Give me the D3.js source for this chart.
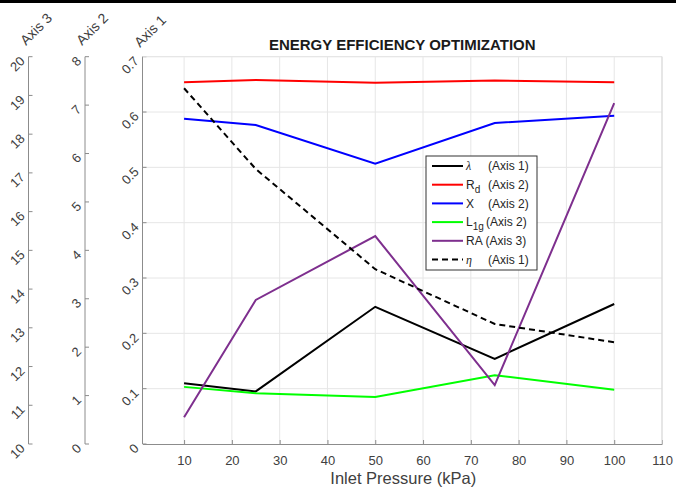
<!DOCTYPE html>
<html>
<head>
<meta charset="utf-8">
<script src="https://cdn.jsdelivr.net/npm/d3@7"></script>
<style>
  body { margin: 0; background: #fff; }
  svg { display: block; font-family: "Liberation Sans", Arial, sans-serif; }
</style>
</head>
<body>
<div id="chart-area"></div>
<script>
// Data
const pressure = [10, 25, 50, 75, 100];
const lambda = [0.110, 0.095, 0.248, 0.154, 0.253];
const eta = [0.643, 0.497, 0.316, 0.217, 0.184];
const rd = [7.47, 7.52, 7.46, 7.51, 7.47];
const xReact = [6.72, 6.59, 5.79, 6.63, 6.78];
const l1g = [1.18, 1.05, 0.97, 1.42, 1.12];
const ra = [10.69, 13.72, 15.37, 11.52, 18.80];

const xTicks = [10, 20, 30, 40, 50, 60, 70, 80, 90, 100, 110];
const axis1Ticks = [0, 0.1, 0.2, 0.3, 0.4, 0.5, 0.6, 0.7];
const axis2Ticks = [0, 1, 2, 3, 4, 5, 6, 7, 8];
const axis3Ticks = [10, 11, 12, 13, 14, 15, 16, 17, 18, 19, 20];

// Constants
const WIDTH = 676, HEIGHT = 488;
const PLOT = { LEFT: 142.5, RIGHT: 662, TOP: 56.7, BOTTOM: 444 };
const AX2_X = 85, AX3_X = 28.5;
const GRID = '#e6e6e6';
const AXIS = '#8c8c8c';
const TEXT = '#404040';

const svg = d3.select('#chart-area')
    .append('svg')
    .attr('width', WIDTH)
    .attr('height', HEIGHT);

svg.append('rect').attr('x', 0).attr('y', 0).attr('width', WIDTH).attr('height', 3).attr('fill', '#000');

// Scales
const x = d3.scaleLinear().domain([1.3, 110]).range([PLOT.LEFT, PLOT.RIGHT]);
const y1 = d3.scaleLinear().domain([0, 0.7]).range([PLOT.BOTTOM, PLOT.TOP]);
const y2 = d3.scaleLinear().domain([0, 8]).range([PLOT.BOTTOM, PLOT.TOP]);
const y3 = d3.scaleLinear().domain([10, 20]).range([PLOT.BOTTOM, PLOT.TOP]);

// Grid
const grid = svg.append('g');
grid.selectAll('.vg').data(xTicks).enter().append('line')
    .attr('x1', d => x(d)).attr('x2', d => x(d))
    .attr('y1', PLOT.TOP).attr('y2', PLOT.BOTTOM)
    .attr('stroke', GRID).attr('stroke-width', 1);
grid.selectAll('.hg').data(axis1Ticks.slice(1)).enter().append('line')
    .attr('x1', PLOT.LEFT).attr('x2', PLOT.RIGHT)
    .attr('y1', d => y1(d)).attr('y2', d => y1(d))
    .attr('stroke', GRID).attr('stroke-width', 1);

// X axis
const xAxis = svg.append('g')
    .attr('transform', `translate(0, ${PLOT.BOTTOM})`)
    .call(d3.axisBottom(x).tickValues(xTicks).tickSize(-4).tickPadding(12).tickSizeOuter(0));
xAxis.select('.domain').attr('stroke', AXIS);
xAxis.selectAll('.tick line').attr('stroke', AXIS);
xAxis.selectAll('.tick text').attr('fill', TEXT).attr('font-size', 13).attr('font-family', '"Liberation Sans", Arial, sans-serif');

// Left y axes with rotated labels
function leftAxis(scale, ticks, xPos, fmt) {
    const g = svg.append('g').attr('transform', `translate(${xPos}, 0)`);
    g.append('line')
        .attr('x1', 0).attr('x2', 0)
        .attr('y1', PLOT.TOP).attr('y2', PLOT.BOTTOM)
        .attr('stroke', AXIS).attr('stroke-width', 1);
    g.selectAll('.tk').data(ticks).enter().append('line')
        .attr('x1', 0).attr('x2', 4)
        .attr('y1', d => scale(d)).attr('y2', d => scale(d))
        .attr('stroke', AXIS);
    g.selectAll('.lb').data(ticks).enter().append('text')
        .attr('transform', d => `translate(-6, ${scale(d) + 2}) rotate(-45)`)
        .attr('text-anchor', 'end')
        .attr('dy', '0.35em')
        .attr('fill', TEXT)
        .attr('font-size', 13)
        .text(fmt);
    return g;
}
leftAxis(y1, axis1Ticks, PLOT.LEFT, d => d === 0 ? '0' : d3.format('.1f')(d));
leftAxis(y2, axis2Ticks, AX2_X, d => d);
leftAxis(y3, axis3Ticks, AX3_X, d => d);

// Top and right box edges
svg.append('line').attr('x1', PLOT.LEFT).attr('x2', PLOT.RIGHT).attr('y1', PLOT.TOP).attr('y2', PLOT.TOP).attr('stroke', GRID);
svg.append('line').attr('x1', PLOT.RIGHT).attr('x2', PLOT.RIGHT).attr('y1', PLOT.TOP).attr('y2', PLOT.BOTTOM).attr('stroke', '#d9d9d9');

// Axis titles
[['Axis 3', 36, 29], ['Axis 2', 92, 29], ['Axis 1', 150, 31]].forEach(([t, cx, cy]) => {
    svg.append('text')
        .attr('transform', `translate(${cx}, ${cy}) rotate(-45)`)
        .attr('text-anchor', 'middle')
        .attr('dy', '0.35em')
        .attr('fill', TEXT)
        .attr('font-size', 14)
        .text(t);
});

// Title and x label
svg.append('text')
    .attr('x', (PLOT.LEFT + PLOT.RIGHT) / 2).attr('y', 50)
    .attr('text-anchor', 'middle')
    .attr('font-weight', 'bold').attr('font-size', 15)
    .attr('fill', '#1a1a1a')
    .text('ENERGY EFFICIENCY OPTIMIZATION');
svg.append('text')
    .attr('x', (PLOT.LEFT + PLOT.RIGHT) / 2 + 1).attr('y', 484)
    .attr('text-anchor', 'middle')
    .attr('font-size', 16.5)
    .attr('fill', TEXT)
    .text('Inlet Pressure (kPa)');

// Series
const series = [
    { values: lambda, scale: y1, color: '#000000', dash: null },
    { values: rd, scale: y2, color: '#ff0000', dash: null },
    { values: xReact, scale: y2, color: '#0000ff', dash: null },
    { values: l1g, scale: y2, color: '#00ff00', dash: null },
    { values: ra, scale: y3, color: '#7e2f8e', dash: null },
    { values: eta, scale: y1, color: '#000000', dash: '6,4' }
];

const plot = svg.append('g');
series.forEach(s => {
    const line = d3.line()
        .x((d, i) => x(pressure[i]))
        .y(d => s.scale(d));
    plot.append('path')
        .datum(s.values)
        .attr('d', line)
        .attr('fill', 'none')
        .attr('stroke', s.color)
        .attr('stroke-width', 2)
        .attr('stroke-dasharray', s.dash);
});

// Legend
const legend = svg.append('g').attr('transform', 'translate(426, 156)');
legend.append('rect')
    .attr('x', 0).attr('y', 0).attr('width', 111).attr('height', 114)
    .attr('fill', '#fff').attr('stroke', '#333').attr('stroke-width', 1);

const legendItems = [
    { sym: 'λ', sub: '', serif: true, axis: '(Axis 1)', ax: 62 },
    { sym: 'R', sub: 'd', serif: false, axis: '(Axis 2)', ax: 62 },
    { sym: 'X', sub: '', serif: false, axis: '(Axis 2)', ax: 62 },
    { sym: 'L', sub: '1g', serif: false, axis: '(Axis 2)', ax: 60 },
    { sym: 'RA', sub: '', serif: false, axis: '(Axis 3)', ax: 59.5 },
    { sym: 'η', sub: '', serif: true, axis: '(Axis 1)', ax: 62 }
];

legendItems.forEach((item, i) => {
    const s = series[i];
    const yy = 10 + i * 18.7;
    legend.append('line')
        .attr('x1', 6).attr('x2', 37)
        .attr('y1', yy).attr('y2', yy)
        .attr('stroke', s.color).attr('stroke-width', 2)
        .attr('stroke-dasharray', s.dash);
    const t = legend.append('text')
        .attr('x', 40).attr('y', yy).attr('dy', '0.35em')
        .attr('font-size', 12).attr('fill', '#262626');
    t.append('tspan')
        .attr('font-family', item.serif ? '"Liberation Serif", serif' : null)
        .attr('font-style', item.serif ? 'italic' : null)
        .text(item.sym);
    if (item.sub) {
        t.append('tspan').attr('dy', 4).attr('font-size', 10).text(item.sub);
    }
    legend.append('text')
        .attr('x', item.ax).attr('y', yy).attr('dy', '0.35em')
        .attr('font-size', 12).attr('fill', '#262626')
        .text(item.axis);
});
</script>
</body>
</html>
